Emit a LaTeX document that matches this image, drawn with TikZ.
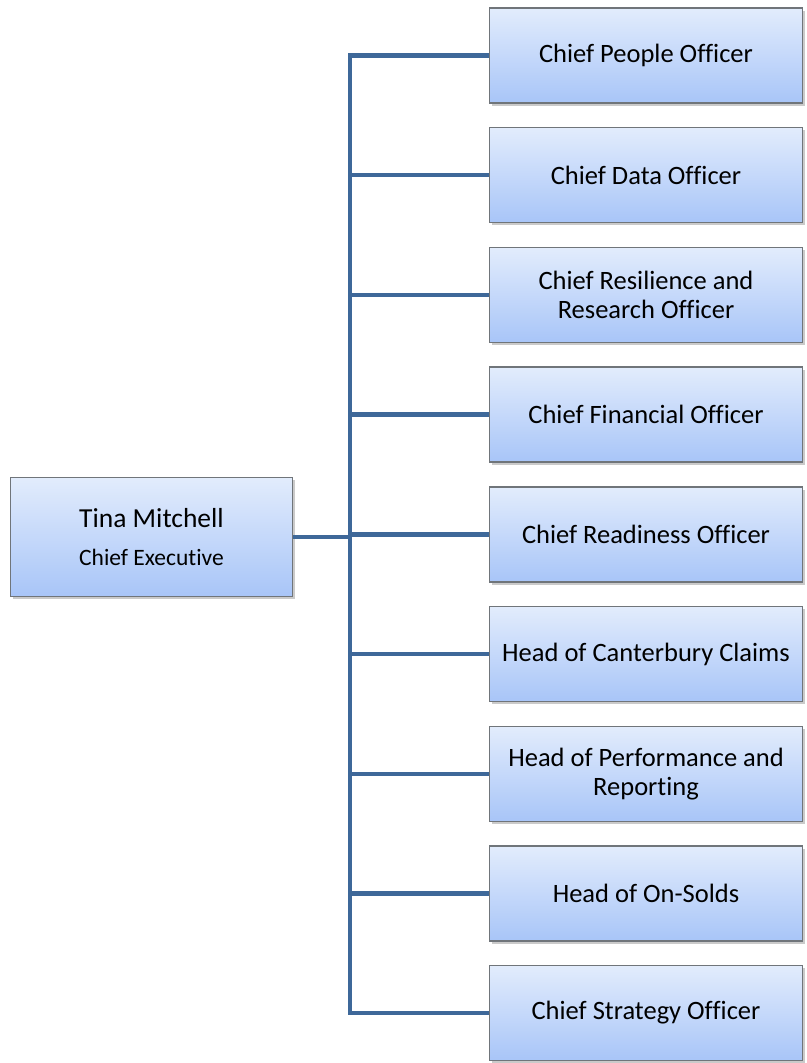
\documentclass[tikz,border=0pt]{standalone}
\usepackage{fontspec}
\setmainfont{Carlito}[Ligatures=NoCommon]
\usetikzlibrary{shadows}
\definecolor{linec}{HTML}{3E6899}
\definecolor{topc}{HTML}{E2ECFC}
\definecolor{botc}{HTML}{A8C5F8}
\definecolor{bordc}{HTML}{70757A}
\tikzset{
  box/.style={draw=bordc, line width=1.2pt, top color=topc, bottom color=botc,
    minimum width=313pt, minimum height=95pt, align=center, inner sep=2pt,
    font=\fontsize{26.5}{29}\selectfont,
    drop shadow={shadow xshift=2.5pt, shadow yshift=-2.5pt, opacity=0.35, fill=black!60}},
  ceo/.style={box, minimum width=282pt, minimum height=119pt},
  conn/.style={draw=linec, line width=4.5pt},
}
\begin{document}
\begin{tikzpicture}[x=1pt,y=-1pt]
\useasboundingbox (0,0) rectangle (806,1063);
\node[ceo] (ceo) at (151.5,537) {{\fontsize{27.5}{30}\selectfont Tina Mitchell}\\[9pt]{\fontsize{23.5}{26}\selectfont Chief Executive}};
\node[box] (b1) at (646,55.5) {Chief People Officer};
\node[box] (b2) at (646,175) {Chief Data Officer};
\node[box] (b3) at (646,295) {Chief Resilience and\\Research Officer};
\node[box] (b4) at (646,414.5) {Chief Financial Officer};
\node[box] (b5) at (646,534.5) {Chief Readiness Officer};
\node[box] (b6) at (646,654) {Head of Canterbury Claims};
\node[box] (b7) at (646,774) {Head of Performance and\\Reporting};
\node[box] (b8) at (646,893.5) {Head of On-Solds};
\node[box] (b9) at (646,1013) {Chief Strategy Officer};
\coordinate (top) at (350,55.5);
\coordinate (bot) at (350,1013);
\coordinate (mid) at (350,537);
\draw[conn] (b1.west) -- (top) -- (bot) -- (b9.west);
\foreach \i in {2,...,8} { \draw[conn] (b\i.west) -- (b\i.west -| top); }
\draw[conn] (ceo.east) -- (mid);
\end{tikzpicture}
\end{document}
